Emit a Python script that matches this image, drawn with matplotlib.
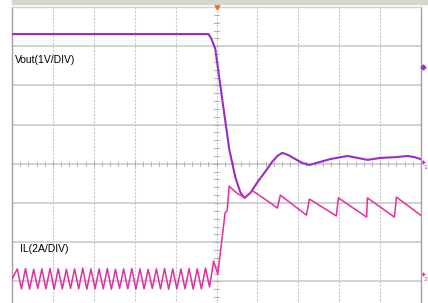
import matplotlib
matplotlib.use("Agg")
import matplotlib.pyplot as plt
from matplotlib.patches import Rectangle
import numpy as np

# ================== DATA (screen divisions) ==================
# Vout trace
vout_t = [0.00, 4.80, 4.87, 4.97, 5.14, 5.31, 5.46, 5.58, 5.68, 5.83, 6.02, 6.22,
          6.36, 6.49, 6.61, 6.76, 6.93, 7.10, 7.27, 7.54, 7.78, 8.20, 8.45, 8.69,
          9.01, 9.38, 9.67, 9.84, 9.99]
vout_v = [7.31, 7.31, 7.21, 6.93, 5.65, 4.38, 3.66, 3.28, 3.13, 3.26, 3.56, 3.84,
          4.05, 4.20, 4.28, 4.22, 4.12, 4.02, 3.97, 4.05, 4.12, 4.20, 4.15, 4.10,
          4.15, 4.17, 4.20, 4.17, 4.12]

# inductor current, steady ripple before the load step
il_t_pre = [0.00, 0.13, 0.23, 0.33, 0.43, 0.53, 0.63, 0.73, 0.83, 0.93, 1.03,
            1.13, 1.23, 1.33, 1.43, 1.53, 1.63, 1.73, 1.83, 1.93, 2.03, 2.13,
            2.23, 2.33, 2.43, 2.53, 2.63, 2.73, 2.83, 2.93, 3.03, 3.13, 3.23,
            3.33, 3.43, 3.53, 3.63, 3.73, 3.83, 3.93, 4.03, 4.13, 4.23, 4.33,
            4.43, 4.53, 4.63, 4.73, 4.83, 4.93, 5.03]
il_v_pre = [1.06, 1.32, 0.81, 1.33, 0.80, 1.31, 0.82, 1.32, 0.81, 1.33, 0.80,
            1.32, 0.81, 1.31, 0.82, 1.32, 0.81, 1.34, 0.80, 1.32, 0.81, 1.32,
            0.81, 1.33, 0.80, 1.31, 0.82, 1.32, 0.81, 1.33, 0.80, 1.32, 0.81,
            1.31, 0.82, 1.32, 0.81, 1.33, 0.80, 1.32, 0.81, 1.32, 0.81, 1.33,
            0.80, 1.32, 0.81, 1.34, 0.86, 1.52, 1.19]
# inductor current after the load step
il_t_post = [5.17, 5.21, 5.26, 5.31, 5.41, 5.53, 5.70, 5.80, 5.88, 6.07, 6.32,
             6.49, 6.56, 7.20, 7.27, 7.93, 7.98, 8.67, 8.69, 9.35, 9.40, 9.99]
il_v_post = [2.39, 2.75, 2.80, 3.43, 3.33, 3.23, 3.13, 3.23, 3.31, 3.18, 3.00,
             2.87, 3.20, 2.69, 3.10, 2.67, 3.13, 2.64, 3.13, 2.64, 3.15, 2.69]

il_t = il_t_pre + il_t_post
il_v = il_v_pre + il_v_post

vout_color = "#9b2bc8"
il_color = "#e0309c"

# ================== FIGURE ==================
W, H = 428, 303
fig = plt.figure(figsize=(W / 100, H / 100), dpi=100)
fig.patch.set_facecolor("white")

# scope screen: 10 x 8 divisions, bottom is cut off by the picture
left, top, div_w, div_h = 12, 7, 40.9, 39.2
ax = fig.add_axes([left / W, (H - top - 8 * div_h) / H, 10 * div_w / W, 8 * div_h / H])
ax.set_xlim(0, 10)
ax.set_ylim(0, 8)
ax.set_xticks([])
ax.set_yticks([])
for s in ax.spines.values():
    s.set_color("#a0a0a0")
    s.set_linewidth(1.0)
ax.spines["top"].set_color("#d0d0d0")

# grey strip above the screen
fig.patches.append(Rectangle((left / W, (H - 4) / H), 1 - left / W, 4 / H,
                             transform=fig.transFigure, color="#d6d6cc", zorder=0))

# grid
for y in range(1, 8):
    ax.axhline(y, color="#cfcfcf", lw=1.3, zorder=1)
for x in range(1, 10):
    ax.axvline(x, color="#c8c8c8", lw=0.8, ls=(0, (2, 1.2)), zorder=1)

# tick marks on the centre axes
for x in np.arange(0.2, 10, 0.2):
    ax.plot([x, x], [3.95, 4.05], color="#b0b0b0", lw=0.7, zorder=1)
for y in np.arange(0.2, 8, 0.2):
    ax.plot([4.95, 5.05], [y, y], color="#b0b0b0", lw=0.7, zorder=1)

# traces
ax.plot(vout_t, vout_v, color=vout_color, lw=1.5, zorder=3)
ax.plot(il_t, il_v, color=il_color, lw=1.1, zorder=3)

# labels
ax.text(0.08, 6.65, "Vout(1V/DIV)", fontsize=7.5, family="Liberation Sans",
        color="#000000", va="center", ha="left")
ax.text(0.2, 1.83, "IL(2A/DIV)", fontsize=7.5, family="Liberation Sans",
        color="#000000", va="center", ha="left")

# trigger marker and channel markers
ax.plot([5.0], [8.0], marker="v", color="#f07020", ms=3.5, clip_on=False, zorder=5)
ax.plot([10.05], [6.47], marker="D", color="#a030d0", ms=2.5, clip_on=False, zorder=5)
ax.text(10.05, 3.9, "1", fontsize=4.5, color="#a040c0", ha="left", va="center", clip_on=False)
ax.plot([10.05], [4.05], marker="+", color="#a040c0", ms=3, clip_on=False)
ax.text(10.05, 1.05, "2", fontsize=4.5, color="#d040a0", ha="left", va="center", clip_on=False)
ax.plot([10.05], [1.2], marker="+", color="#d040a0", ms=3, clip_on=False)

fig.savefig("out.png", dpi=100)
